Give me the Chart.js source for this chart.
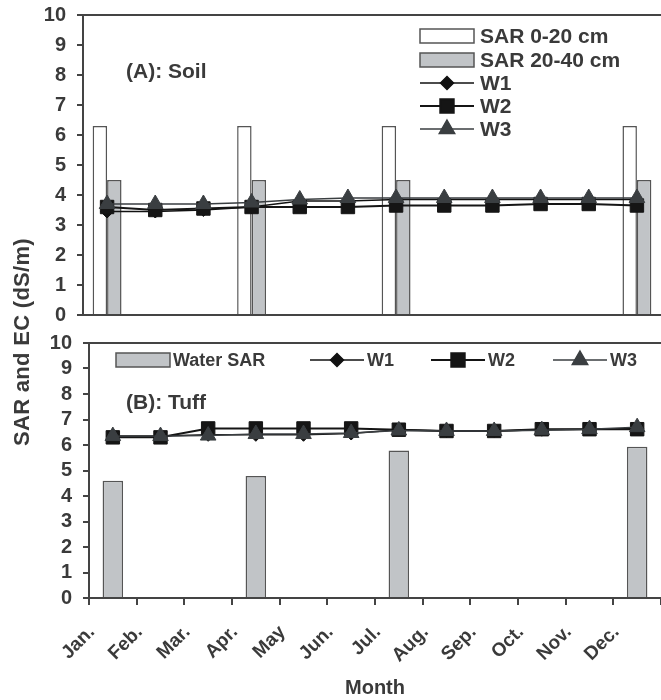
<!DOCTYPE html>
<html lang="en">
<head>
<meta charset="UTF-8">
<title>SAR and EC - Soil and Tuff</title>
<script src="https://cdn.jsdelivr.net/npm/chart.js"></script>
<style>
  body { margin: 0; background: #fff; }
  .wrap { position: relative; width: 661px; height: 700px; overflow: hidden; }
  #soilChart { position: absolute; left: 0; top: 0; }
  #tuffChart { position: absolute; left: 0; top: 330px; }
  .ytitle {
    position: absolute; left: 22px; top: 342px;
    transform: translate(-50%, -50%) rotate(-90deg);
    font: bold 22px "Liberation Sans", Arial, sans-serif;
    letter-spacing: 0.3px;
    color: #3a3a3a; white-space: nowrap;
  }
</style>
</head>
<body>
<div class="wrap">
  <canvas id="soilChart" width="661" height="330"></canvas>
  <canvas id="tuffChart" width="661" height="370"></canvas>
  <div class="ytitle">SAR and EC (dS/m)</div>
</div>

<script>
const months = ['Jan.', 'Feb.', 'Mar.', 'Apr.', 'May', 'Jun.', 'Jul.', 'Aug.', 'Sep.', 'Oct.', 'Nov.', 'Dec.'];
const yTicks = [0, 1, 2, 3, 4, 5, 6, 7, 8, 9, 10];

// (A) soil
const soilSar0to20  = [6.3, null, null, 6.3, null, null, 6.3, null, null, null, null, 6.3];
const soilSar20to40 = [4.5, null, null, 4.5, null, null, 4.5, null, null, null, null, 4.5];
const soilW1 = [3.45, 3.45, 3.5, 3.6, 3.8, 3.8, 3.85, 3.85, 3.85, 3.85, 3.85, 3.85];
const soilW2 = [3.6, 3.5, 3.55, 3.6, 3.6, 3.6, 3.65, 3.65, 3.65, 3.7, 3.7, 3.65];
const soilW3 = [3.7, 3.7, 3.7, 3.75, 3.85, 3.9, 3.9, 3.9, 3.9, 3.9, 3.9, 3.9];

// (B) tuff
const waterSar = [4.6, null, null, 4.78, null, null, 5.78, null, null, null, null, 5.93];
const tuffW1 = [6.35, 6.35, 6.4, 6.4, 6.4, 6.45, 6.6, 6.55, 6.55, 6.6, 6.62, 6.65];
const tuffW2 = [6.3, 6.3, 6.65, 6.65, 6.65, 6.65, 6.6, 6.55, 6.55, 6.62, 6.62, 6.62];
const tuffW3 = [6.35, 6.35, 6.37, 6.43, 6.43, 6.47, 6.57, 6.55, 6.55, 6.58, 6.62, 6.7];

const FONT = '"Liberation Sans", Arial, sans-serif';
const TEXT = '#3a3a3a';
const AXIS = '#444';

// draws top frame line, panel label and the legend inside the plot area
const panelDecor = {
  id: 'panelDecor',
  afterDraw(chart, args, opts) {
    const ctx = chart.ctx;
    const area = chart.chartArea;
    ctx.save();
    ctx.strokeStyle = AXIS;
    ctx.lineWidth = 2;
    ctx.beginPath();
    ctx.moveTo(area.left, area.top);
    ctx.lineTo(area.right, area.top);
    ctx.stroke();

    ctx.fillStyle = TEXT;
    ctx.textBaseline = 'middle';
    ctx.font = 'bold 21px ' + FONT;
    ctx.fillText(opts.label, opts.labelX, opts.labelY);

    ctx.font = 'bold ' + opts.legendFont + 'px ' + FONT;
    chart.data.datasets.forEach((ds, i) => {
      const pos = opts.legend[i];
      const w = 54;
      if (ds.type === 'bar') {
        ctx.fillStyle = ds.backgroundColor;
        ctx.strokeStyle = ds.borderColor;
        ctx.lineWidth = 1.5;
        ctx.fillRect(pos.x, pos.y - 7, w, 14);
        ctx.strokeRect(pos.x, pos.y - 7, w, 14);
      } else {
        ctx.strokeStyle = ds.borderColor;
        ctx.lineWidth = ds.borderWidth;
        ctx.beginPath();
        ctx.moveTo(pos.x, pos.y);
        ctx.lineTo(pos.x + w, pos.y);
        ctx.stroke();
        ctx.fillStyle = ds.pointBackgroundColor;
        ctx.strokeStyle = ds.pointBorderColor;
        Chart.helpers.drawPoint(ctx, {
          pointStyle: ds.pointStyle, radius: ds.pointRadius, rotation: 0, borderWidth: 1
        }, pos.x + w / 2, pos.y);
      }
      ctx.fillStyle = TEXT;
      ctx.fillText(ds.label, pos.x + w + opts.legendGap, pos.y + 1);
    });
    ctx.restore();
  }
};

function lineSet(label, data, color, width, style, radius, order) {
  return {
    type: 'line', label: label, data: data,
    borderColor: color, borderWidth: width,
    pointStyle: style, pointRadius: radius, pointHoverRadius: radius,
    pointBackgroundColor: color, pointBorderColor: color, pointBorderWidth: 1,
    tension: 0, order: order
  };
}

function yScale(width) {
  return {
    min: 0, max: 10,
    afterBuildTicks: s => { s.ticks = yTicks.map(v => ({ value: v })); },
    afterFit: s => { s.width = width; s.paddingTop = 0; s.paddingBottom = 0; },
    ticks: { color: TEXT, padding: 11, autoSkip: false, font: { family: FONT, size: 20, weight: 'bold' } },
    grid: { display: true, drawOnChartArea: false, tickLength: 6, color: AXIS, lineWidth: 2 },
    border: { display: true, color: AXIS, width: 2 }
  };
}

new Chart(document.getElementById('soilChart'), {
  type: 'bar',
  data: {
    labels: months,
    datasets: [
      { type: 'bar', label: 'SAR 0-20 cm', data: soilSar0to20, backgroundColor: '#ffffff',
        borderColor: '#555', borderWidth: 1.5, barPercentage: 1, categoryPercentage: 0.6, order: 3 },
      { type: 'bar', label: 'SAR 20-40 cm', data: soilSar20to40, backgroundColor: '#c1c4c7',
        borderColor: '#555', borderWidth: 1.5, barPercentage: 1, categoryPercentage: 0.6, order: 4 },
      lineSet('W1', soilW1, '#111111', 1.5, 'rectRot', 6.5, 2),
      lineSet('W2', soilW2, '#151515', 2, 'rect', 9.5, 1),
      lineSet('W3', soilW3, '#3a3e41', 1.4, 'triangle', 9, 0)
    ]
  },
  options: {
    responsive: false,
    animation: false,
    layout: { autoPadding: false, padding: { top: 15, left: 0, right: 0, bottom: 0 } },
    plugins: {
      legend: { display: false },
      tooltip: { enabled: false },
      panelDecor: {
        label: '(A): Soil', labelX: 126, labelY: 72,
        legendFont: 21, legendGap: 6,
        legend: [{ x: 420, y: 36 }, { x: 420, y: 60 }, { x: 420, y: 83 }, { x: 420, y: 106 }, { x: 420, y: 129 }]
      }
    },
    scales: {
      x: {
        offset: true,
        afterFit: s => { s.height = 15; s.paddingLeft = 0; s.paddingRight = 0; },
        ticks: { display: false },
        grid: { display: false },
        border: { display: true, color: AXIS, width: 2 }
      },
      y: yScale(83)
    }
  },
  plugins: [panelDecor]
});

new Chart(document.getElementById('tuffChart'), {
  type: 'bar',
  data: {
    labels: months,
    datasets: [
      { type: 'bar', label: 'Water SAR', data: waterSar, backgroundColor: '#c1c4c7',
        borderColor: '#555', borderWidth: 1.5, barPercentage: 1, categoryPercentage: 0.43, order: 3 },
      lineSet('W1', tuffW1, '#111111', 1.5, 'rectRot', 6.5, 2),
      lineSet('W2', tuffW2, '#151515', 2, 'rect', 9.5, 1),
      lineSet('W3', tuffW3, '#3a3e41', 1.4, 'triangle', 9, 0)
    ]
  },
  options: {
    responsive: false,
    animation: false,
    layout: { autoPadding: false, padding: { top: 13, left: 0, right: 0, bottom: 0 } },
    plugins: {
      legend: { display: false },
      tooltip: { enabled: false },
      panelDecor: {
        label: '(B): Tuff', labelX: 126, labelY: 73,
        legendFont: 18, legendGap: 3,
        legend: [{ x: 116, y: 30 }, { x: 310, y: 30 }, { x: 431, y: 30 }, { x: 553, y: 30 }]
      }
    },
    scales: {
      x: {
        offset: true,
        afterFit: s => { s.height = 102; s.paddingLeft = 0; s.paddingRight = 0; },
        ticks: {
          color: TEXT, minRotation: 45, maxRotation: 45, autoSkip: false,
          labelOffset: -21, padding: 16,
          font: { family: FONT, size: 19, weight: 'bold' }
        },
        grid: { display: true, offset: true, drawOnChartArea: false, tickLength: 7, color: AXIS, lineWidth: 2 },
        border: { display: true, color: AXIS, width: 2 },
        title: {
          display: true, text: 'Month', color: TEXT,
          padding: { top: 0, bottom: 0 },
          font: { family: FONT, size: 20, weight: 'bold' }
        }
      },
      y: yScale(89)
    }
  },
  plugins: [panelDecor]
});
</script>
</body>
</html>
